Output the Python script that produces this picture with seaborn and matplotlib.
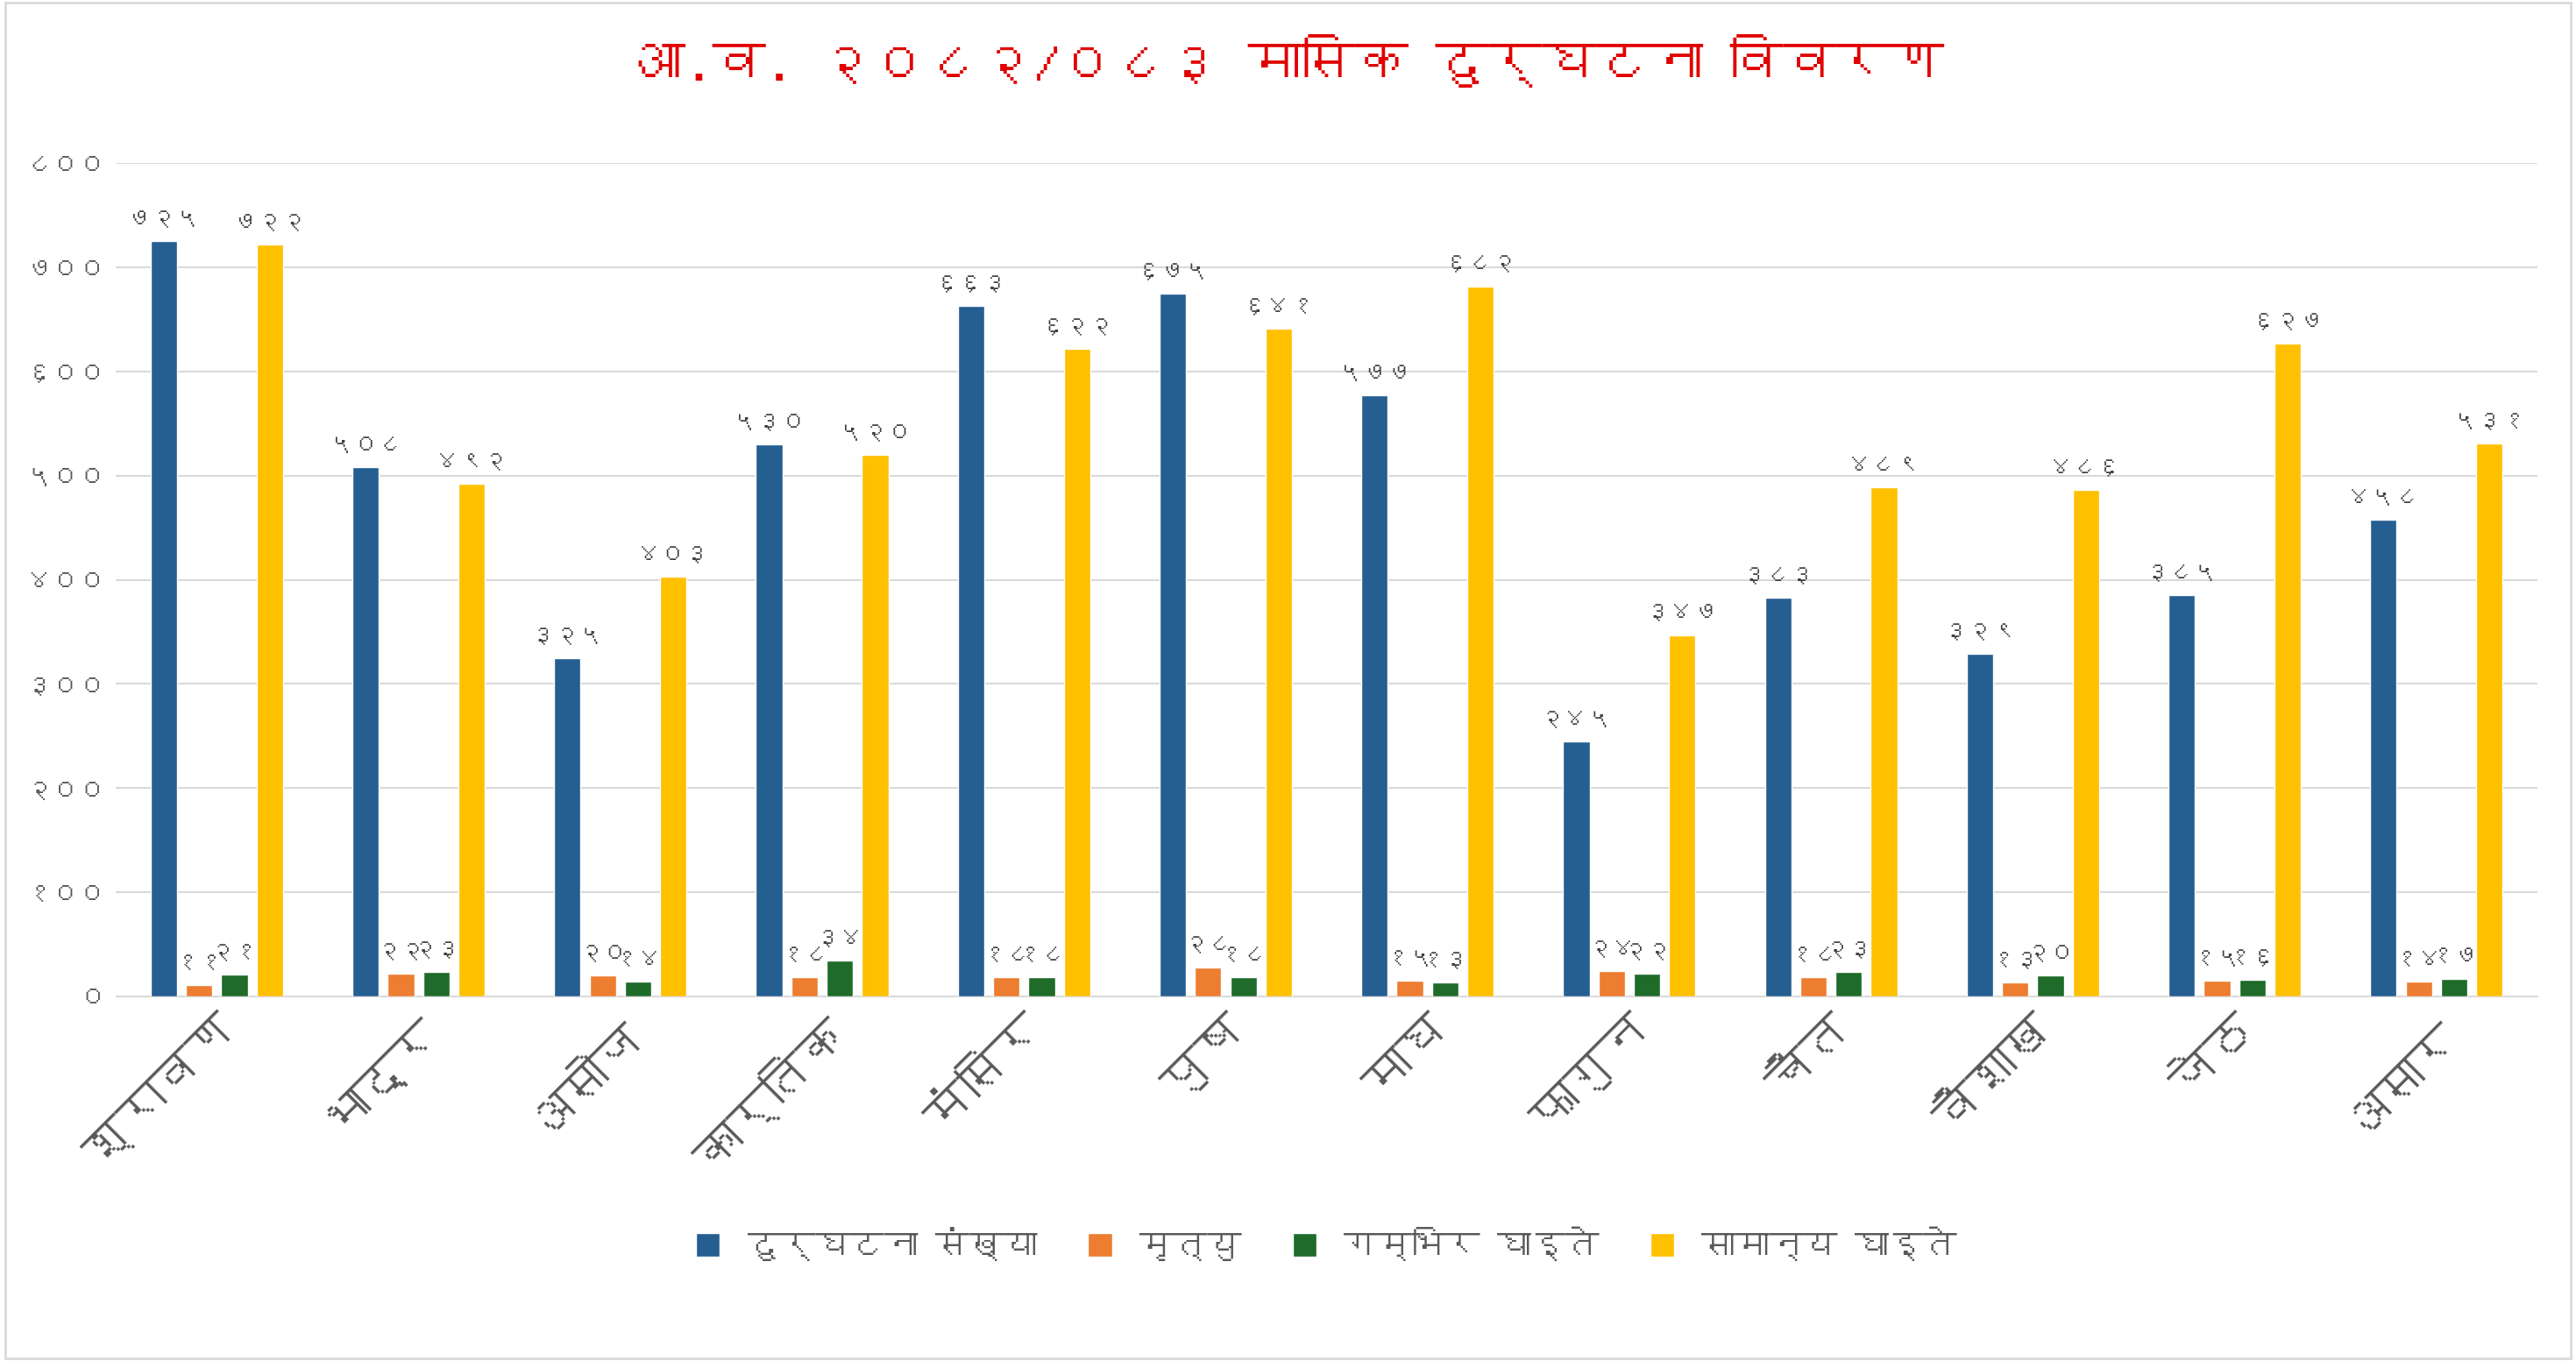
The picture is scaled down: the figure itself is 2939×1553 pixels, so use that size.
import numpy as np
import pandas as pd
import matplotlib
matplotlib.use("Agg")
import matplotlib.pyplot as plt
import seaborn as sb
from matplotlib import font_manager
from matplotlib.ft2font import FT2Font

months = ["श्रावण", "भाद्र", "असोज", "कार्तिक", "मंसिर", "पुष", "माघ", "फागुन", "चैत", "वैशाख", "जेठ", "असार"]
series = ["दुर्घटना संख्या", "मृत्यु", "गम्भिर घाइते", "सामान्य घाइते"]
accidents = [725, 508, 325, 530, 663, 675, 577, 245, 383, 329, 385, 458]
deaths = [11, 22, 20, 18, 18, 28, 15, 24, 18, 13, 15, 14]
serious = [21, 23, 14, 34, 18, 18, 13, 22, 23, 20, 16, 17]
minor = [722, 492, 403, 520, 622, 641, 682, 347, 489, 486, 627, 531]
colors = ["#255E91", "#ED7D31", "#1E6B2A", "#FFC000"]
title = "आ.व. २०८२/०८३ मासिक दुर्घटना विवरण"

# find a font that has devanagari glyphs, if there is one
families = []
for f in font_manager.fontManager.ttflist:
    try:
        if ord("क") in FT2Font(f.fname).get_charmap():
            families.append(f.name)
            break
    except Exception:
        pass
families += ["DejaVu Sans"]

digits = str.maketrans("0123456789", "०१२३४५६७८९")
def dev(n):
    return str(n).translate(digits)

df = pd.DataFrame({
    "month": months * 4,
    "series": np.repeat(series, 12),
    "value": accidents + deaths + serious + minor,
})

sb.set_style("white")
plt.rcParams["font.family"] = families

fig = plt.figure(figsize=(29.39, 15.53), dpi=100)
ax = fig.add_axes([0.045, 0.268, 0.94, 0.612])
sb.barplot(data=df, x="month", y="value", hue="series", palette=colors,
           saturation=1, width=0.7, gap=0.25, ax=ax, legend=True)

for cont in ax.containers:
    ax.bar_label(cont, labels=[dev(int(v)) for v in cont.datavalues],
                 padding=10, fontsize=20, color="#404040")

ax.set_ylim(0, 800)
ax.set_yticks(range(0, 801, 100))
ax.set_yticklabels([dev(v) for v in range(0, 801, 100)], fontsize=22, color="#595959")
ax.yaxis.grid(True, color="#D9D9D9", linewidth=1.5)
ax.set_axisbelow(True)
ax.set_xlabel("")
ax.set_ylabel("")
ax.tick_params(axis="x", length=0, pad=10)
ax.tick_params(axis="y", length=0, pad=8)
plt.setp(ax.get_xticklabels(), rotation=45, ha="right", rotation_mode="anchor",
         fontsize=40, color="#595959")
for s in ["top", "right", "left"]:
    ax.spines[s].set_visible(False)
ax.spines["bottom"].set_color("#D9D9D9")

ax.legend(loc="upper center", bbox_to_anchor=(0.5, -0.24), ncol=4, frameon=False,
          fontsize=28, handlelength=0.7, handleheight=0.7, columnspacing=1.5,
          labelcolor="#595959")

fig.suptitle(title, y=0.975, fontsize=44, fontweight="bold", color="#E00000")
fig.patches.append(plt.Rectangle((0.002, 0.002), 0.996, 0.996, transform=fig.transFigure,
                                 fill=False, edgecolor="#D9D9D9", linewidth=2))
fig.savefig("out.png", dpi=100, facecolor="white")
